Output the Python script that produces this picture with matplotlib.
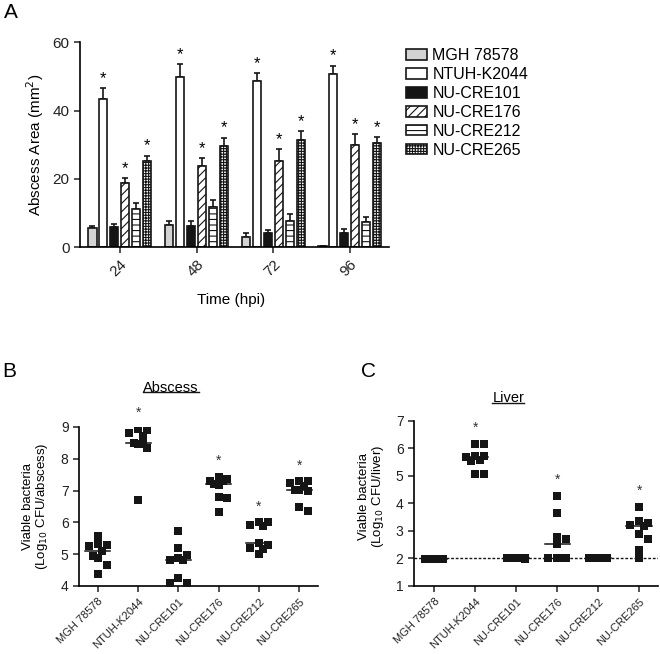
import matplotlib
matplotlib.use("Agg")
import matplotlib.pyplot as plt
from matplotlib.lines import Line2D
import numpy as np

plt.rcParams['font.family'] = ['Liberation Sans', 'DejaVu Sans']
plt.rcParams['hatch.linewidth'] = 0.8

# ---- panel A data: abscess area (mean, SEM) per time point ----
times = ["24", "48", "72", "96"]
strains = ["MGH 78578", "NTUH-K2044", "NU-CRE101", "NU-CRE176", "NU-CRE212", "NU-CRE265"]

mgh_area = [5.5, 6.4, 3.0, 0.3]
ntuh_area = [43.3, 49.8, 48.7, 50.8]
cre101_area = [5.9, 6.1, 4.0, 4.2]
cre176_area = [18.8, 23.7, 25.1, 30.0]
cre212_area = [11.0, 11.8, 7.7, 7.4]
cre265_area = [25.2, 29.7, 31.4, 30.6]

mgh_sem = [0.7, 1.1, 1.0, 0.1]
ntuh_sem = [3.4, 3.9, 2.4, 2.4]
cre101_sem = [0.8, 1.6, 1.0, 1.1]
cre176_sem = [1.3, 2.4, 3.6, 3.1]
cre212_sem = [1.8, 2.1, 2.1, 1.5]
cre265_sem = [1.6, 2.4, 2.6, 1.7]

area_signif = [False, True, False, True, False, True]

# ---- panel B data: bacteria in abscess (log10 CFU) ----
abscess_mgh = [5.31, 5.56, 5.25, 5.28, 4.93, 4.89, 5.10, 4.65, 4.39]
abscess_ntuh = [8.90, 8.95, 8.82, 8.71, 8.45, 8.50, 8.35, 8.45, 6.69]
abscess_101 = [5.73, 5.20, 4.97, 4.83, 4.81, 4.89, 4.26, 4.08, 4.09]
abscess_176 = [7.30, 7.35, 7.43, 7.17, 7.30, 7.22, 6.80, 6.78, 6.33]
abscess_212 = [6.00, 5.89, 6.00, 5.93, 5.36, 5.28, 5.20, 5.17, 5.00]
abscess_265 = [7.03, 7.13, 7.29, 7.24, 7.29, 6.98, 7.03, 6.35, 6.48]
abscess_signif = [False, True, False, True, True, True]

# ---- panel C data: bacteria in liver (log10 CFU) ----
liver_mgh = [1.97, 1.97, 1.97, 1.97, 1.97, 1.97, 1.97, 1.97, 1.97]
liver_ntuh = [6.15, 6.15, 5.58, 5.73, 5.55, 5.73, 5.68, 5.07, 5.07]
liver_101 = [2.0, 2.0, 2.0, 2.0, 1.97, 2.0, 2.0, 2.0, 2.0]
liver_176 = [4.28, 3.67, 2.79, 2.70, 2.52, 2.0, 2.0, 2.0, 2.0]
liver_212 = [2.0, 2.0, 2.0, 2.0, 2.0, 2.0, 2.0, 2.0, 2.0]
liver_265 = [3.88, 3.30, 3.37, 3.22, 3.18, 2.89, 2.71, 2.31, 2.0]
liver_signif = [False, True, False, True, False, True]
detection_limit = 2.0


def swarm_offsets(vals, step, yh, max_k=2):
    """simple dot-plot layout: put each point at the nearest free x slot"""
    cands = [0.0]
    for k in range(1, max_k + 1):
        cands += [k * step / 2, -k * step / 2]
    placed = []
    out = np.zeros(len(vals))
    for i in np.argsort(vals)[::-1]:
        v = vals[i]
        best = None
        for c in cands:
            hits = sum(1 for (px, py) in placed
                       if abs(px - c) < step * 0.95 and abs(py - v) < yh)
            if hits == 0:
                best = c
                break
        if best is None:
            # crowded: take the slot with the fewest points sitting right on it
            crowd = [sum(1 for (px, py) in placed
                         if abs(px - c) < step * 0.3 and abs(py - v) < yh) for c in cands]
            best = cands[int(np.argmin(crowd))]
        placed.append((best, v))
        out[i] = best
    return out


def style_axes(ax):
    for s in ["top", "right"]:
        ax.spines[s].set_visible(False)
    for s in ["left", "bottom"]:
        ax.spines[s].set_linewidth(1.2)
    ax.tick_params(direction="out", length=4, width=1.1, colors="#222222")


fig = plt.figure(figsize=(6.6, 6.54), dpi=100)

# ================= panel A =================
axA = fig.add_axes([0.1212, 0.6223, 0.4682, 0.313])
style_axes(axA)
means = [mgh_area, ntuh_area, cre101_area, cre176_area, cre212_area, cre265_area]
sems = [mgh_sem, ntuh_sem, cre101_sem, cre176_sem, cre212_sem, cre265_sem]
faces = ["#d3d3d3", "white", "#151515", "white", "white", "white"]
hatches = [None, None, None, "////", "---", "++++++"]
x = np.arange(len(times))
step = 1 / 7
for i, name in enumerate(strains):
    xs = x + (i - 2.5) * step
    axA.errorbar(xs, means[i], yerr=[np.zeros(len(times)), sems[i]], fmt="none",
                 ecolor="#151515", elinewidth=1.2, capsize=2.5, capthick=1.2, zorder=1)
    axA.bar(xs, means[i], width=0.105, color=faces[i], edgecolor="#151515",
            linewidth=1.2, hatch=hatches[i], label=name, zorder=2)
    if area_signif[i]:
        for xx, m, e in zip(xs, means[i], sems[i]):
            axA.text(xx, m + e + 0.6, "*", ha="center", va="bottom", fontsize=12)
axA.set_xlim(-0.52, 3.51)
axA.set_ylim(0, 60)
axA.set_yticks([0, 20, 40, 60])
axA.set_xticks(x)
axA.set_xticklabels(times, rotation=45, ha="right", rotation_mode="anchor", fontsize=11)
axA.tick_params(axis="y", labelsize=11)
axA.set_ylabel("Abscess Area (mm$^2$)", fontsize=11)
axA.yaxis.set_label_coords(-0.11, 0.5)
axA.set_xlabel("Time (hpi)", fontsize=11)
axA.xaxis.set_label_coords(0.49, -0.225)

fig.legend(loc="upper left", bbox_to_anchor=(0.615, 0.926), frameon=False,
           fontsize=11.5, handlelength=1.3, handleheight=0.65, handletextpad=0.35,
           labelspacing=0.24, borderpad=0, borderaxespad=0)


# ================= panels B & C =================
def dot_panel(ax, groups, signif, ylim, yh, star_off):
    style_axes(ax)
    for k, vals in enumerate(groups):
        vals = np.asarray(vals)
        offs = swarm_offsets(vals, 0.22, yh)
        ax.scatter(k + offs, vals, marker="s", s=30, color="#151515", linewidths=0, zorder=3)
        med = np.median(vals)
        ax.plot([k - 0.31, k + 0.31], [med, med], color="#151515", lw=1.1, zorder=4)
        if signif[k]:
            ax.text(k, vals.max() + star_off, "*", ha="center", va="center",
                    fontsize=10, color="#333333")
    ax.set_xlim(-0.47, 5.47)
    ax.set_ylim(*ylim)
    ax.set_xticks(range(len(strains)))
    ax.set_xticklabels(strains, rotation=45, ha="right", rotation_mode="anchor", fontsize=8)
    ax.tick_params(axis="y", labelsize=10)


axB = fig.add_axes([0.1197, 0.104, 0.3621, 0.2431])
dot_panel(axB, [abscess_mgh, abscess_ntuh, abscess_101, abscess_176, abscess_212, abscess_265],
          abscess_signif, (4, 9), 0.24, 0.5)
axB.set_yticks([4, 5, 6, 7, 8, 9])
axB.set_ylabel("Viable bacteria\n(Log$_{10}$ CFU/abscess)", fontsize=9.5, linespacing=1.0)
axB.yaxis.set_label_coords(-0.12, 0.5)

axC = fig.add_axes([0.6273, 0.104, 0.3697, 0.2523])
dot_panel(axC, [liver_mgh, liver_ntuh, liver_101, liver_176, liver_212, liver_265],
          liver_signif, (1, 7), 0.27, 0.6)
axC.axhline(detection_limit, color="#151515", lw=1.0, ls=(0, (2, 1.3)), zorder=2)
axC.set_yticks([1, 2, 3, 4, 5, 6, 7])
axC.set_xlim(-0.5, 5.46)
axC.set_ylabel("Viable bacteria\n(Log$_{10}$ CFU/liver)", fontsize=9.5, linespacing=1.0)
axC.yaxis.set_label_coords(-0.115, 0.545)

# panel titles (underlined) and letters
tB = fig.text(0.259, 0.407, "Abscess", ha="center", va="center", fontsize=10.5)
tC = fig.text(0.770, 0.391, "Liver", ha="center", va="center", fontsize=10.5)
for lab, xx, yy in [("A", 0.006, 0.995), ("B", 0.004, 0.447), ("C", 0.547, 0.447)]:
    fig.text(xx, yy, lab, ha="left", va="top", fontsize=15)

fig.canvas.draw()
inv = fig.transFigure.inverted()
for t in (tB, tC):
    bb = t.get_window_extent(fig.canvas.get_renderer()).transformed(inv)
    yline = bb.y0 + 0.004
    fig.add_artist(Line2D([bb.x0, bb.x1], [yline, yline], transform=fig.transFigure,
                          color="#151515", lw=1.0))

fig.savefig("out.png", dpi=100)
